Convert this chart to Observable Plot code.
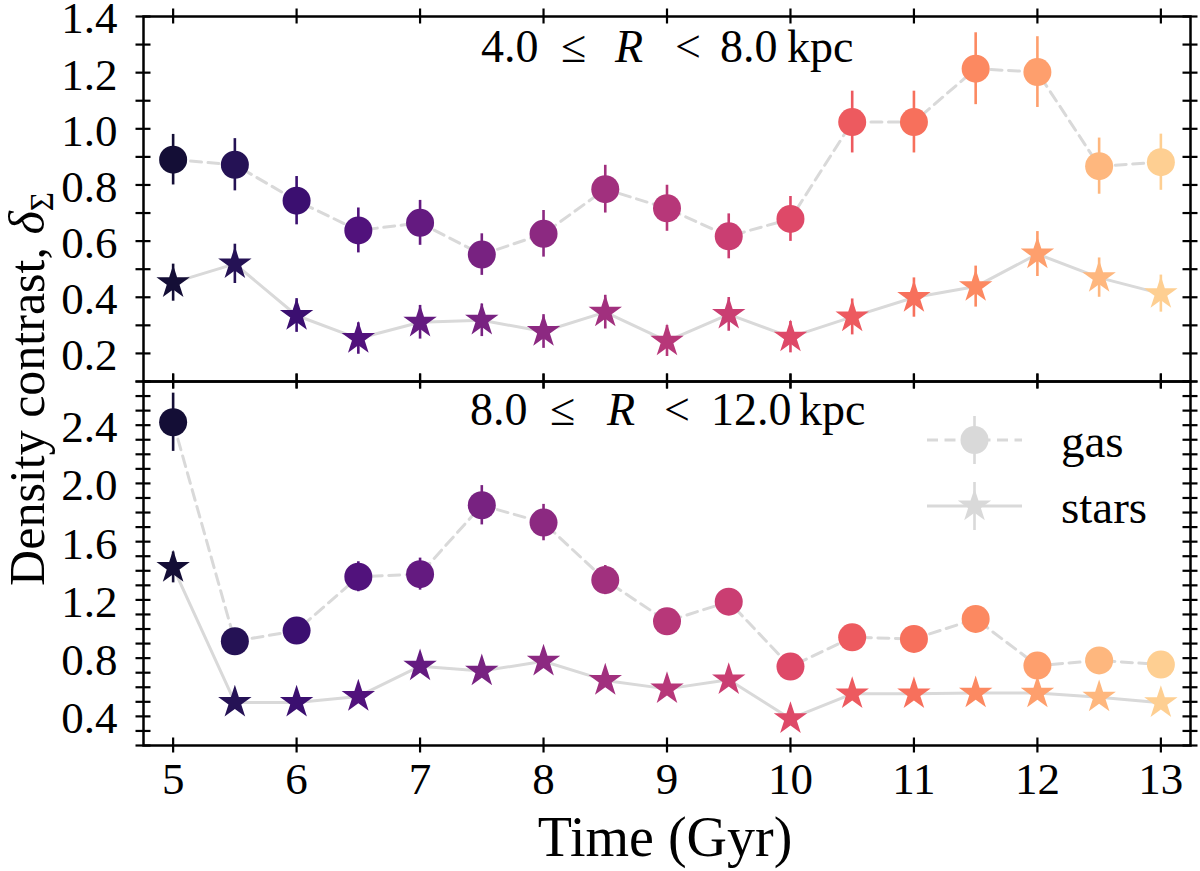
<!DOCTYPE html>
<html><head><meta charset="utf-8">
<script src="https://cdn.jsdelivr.net/npm/d3@7"></script>
<script src="https://cdn.jsdelivr.net/npm/@observablehq/plot@0.6"></script>
<style>
body{margin:0;background:#fff;}
#fig{position:relative;width:1200px;height:871px;font-family:"Liberation Serif",serif;}
#fig svg{position:absolute;left:0;overflow:visible;}
</style></head><body><div id="fig"></div>
<script>
// ---- data ----
const times = [5, 5.5, 6, 6.5, 7, 7.5, 8, 8.5, 9, 9.5, 10, 10.5, 11, 11.5, 12, 12.5, 13];

// 4.0 <= R < 8.0 kpc
const gasInner     = [0.890, 0.872, 0.744, 0.638, 0.665, 0.552, 0.626, 0.785, 0.717, 0.617, 0.679, 1.024, 1.024, 1.214, 1.202, 0.867, 0.881];
const gasInnerErr  = [0.090, 0.093, 0.086, 0.080, 0.080, 0.074, 0.083, 0.085, 0.082, 0.080, 0.080, 0.110, 0.110, 0.128, 0.126, 0.100, 0.100];
const starsInner    = [0.452, 0.519, 0.335, 0.253, 0.311, 0.318, 0.278, 0.347, 0.244, 0.339, 0.258, 0.330, 0.399, 0.438, 0.554, 0.470, 0.413];
const starsInnerErr = [0.066, 0.070, 0.060, 0.056, 0.060, 0.058, 0.060, 0.060, 0.055, 0.060, 0.056, 0.064, 0.070, 0.073, 0.080, 0.070, 0.066];

// 8.0 <= R < 12.0 kpc
const gasOuter     = [2.420, 0.916, 0.989, 1.359, 1.377, 1.850, 1.731, 1.336, 1.053, 1.188, 0.742, 0.943, 0.932, 1.069, 0.749, 0.784, 0.756];
const gasOuterErr  = [0.200, 0.030, 0.030, 0.103, 0.110, 0.135, 0.125, 0.100, 0.050, 0.050, 0.030, 0.030, 0.030, 0.030, 0.030, 0.030, 0.030];
const starsOuter    = [1.423, 0.496, 0.496, 0.537, 0.745, 0.711, 0.779, 0.647, 0.589, 0.651, 0.384, 0.555, 0.555, 0.560, 0.560, 0.532, 0.494];
const starsOuterErr = [0.106, 0.040, 0.040, 0.040, 0.040, 0.040, 0.040, 0.040, 0.040, 0.040, 0.040, 0.040, 0.040, 0.040, 0.040, 0.040, 0.040];

// ---- axis ticks ----
const xTicks = [5, 6, 7, 8, 9, 10, 11, 12, 13];
const yTicksTop = [0.1, 0.2, 0.3, 0.4, 0.5, 0.6, 0.7, 0.8, 0.9, 1.0, 1.1, 1.2, 1.3, 1.4];
const yLabelsTop = [0.2, 0.4, 0.6, 0.8, 1.0, 1.2, 1.4];
const yTicksBot = [0.2, 0.3, 0.4, 0.5, 0.6, 0.7, 0.8, 0.9, 1.0, 1.1, 1.2, 1.3, 1.4, 1.5, 1.6, 1.7, 1.8, 1.9, 2.0, 2.1, 2.2, 2.3, 2.4, 2.5, 2.6, 2.7];
const yLabelsBot = [0.4, 0.8, 1.2, 1.6, 2.0, 2.4];

const panelTitles = [["4.0", "8.0"], ["8.0", "12.0"]];
const legendLabels = ["gas", "stars"];

// ---- tables ----
const inner = times.map((t, i) => ({t, gas: gasInner[i], gasErr: gasInnerErr[i], stars: starsInner[i], starsErr: starsInnerErr[i]}));
const outer = times.map((t, i) => ({t, gas: gasOuter[i], gasErr: gasOuterErr[i], stars: starsOuter[i], starsErr: starsOuterErr[i]}));

const GREY = "#d9d9d9";
const W = 1200, ML = 143, MR = 10;
const FW = W - ML - MR;
const TL = 7.5; // half tick length
const xDomain = [4.76, 13.24];
const colorScale = {scheme: "magma", domain: [4, 14]};
const FONT = "'Liberation Serif', serif";
const styleBase = {fontFamily: FONT, fontSize: "45px", background: "transparent", overflow: "visible", color: "black"};

function seriesMarks(data) {
  return [
    Plot.line(data, {x: "t", y: "gas", stroke: GREY, strokeWidth: 3, strokeDasharray: "11,6.5"}),
    Plot.line(data, {x: "t", y: "stars", stroke: GREY, strokeWidth: 3}),
    Plot.ruleX(data, {x: "t", y1: d => d.gas - d.gasErr, y2: d => d.gas + d.gasErr, stroke: "t", strokeWidth: 2.6}),
    Plot.ruleX(data, {x: "t", y1: d => d.stars - d.starsErr, y2: d => d.stars + d.starsErr, stroke: "t", strokeWidth: 2.6}),
    Plot.dot(data, {x: "t", y: "gas", r: 14, fill: "t", symbol: "circle"}),
    Plot.dot(data, {x: "t", y: "stars", r: 10.5, fill: "t", symbol: "star"})
  ];
}
function tickMarks(yTicks, FH) {
  return [
    Plot.ruleY(yTicks, {y: d => d, insetLeft: -TL, insetRight: FW - TL, stroke: "black", strokeWidth: 2.2}),
    Plot.ruleY(yTicks, {y: d => d, insetLeft: FW - TL, insetRight: -TL, stroke: "black", strokeWidth: 2.2}),
    Plot.ruleX(xTicks, {x: d => d, insetTop: -TL, insetBottom: FH - TL, stroke: "black", strokeWidth: 2.2}),
    Plot.ruleX(xTicks, {x: d => d, insetTop: FH - TL, insetBottom: -TL, stroke: "black", strokeWidth: 2.2}),
    Plot.frame({stroke: "black", strokeWidth: 2.5})
  ];
}

// top panel: frame 16..381
const topH = 400, topMT = 16, topMB = 19;
const topPlot = Plot.plot({
  width: W, height: topH, marginLeft: ML, marginRight: MR, marginTop: topMT, marginBottom: topMB,
  style: styleBase,
  x: {domain: xDomain, axis: null},
  y: {domain: [0.1, 1.4]},
  color: colorScale,
  marks: [
    ...seriesMarks(inner),
    ...tickMarks(yTicksTop, topH - topMT - topMB),
    Plot.axisY({ticks: yLabelsTop, tickSize: 0, tickPadding: 26, dy: 2.5, tickFormat: d3.format(".1f"), label: null, fontFamily: FONT})
  ]
});

// bottom panel: page y 361, frame 381..745
const botTop = 361, botH = 510, botMT = 20, botMB = 126;
const botPlot = Plot.plot({
  width: W, height: botH, marginLeft: ML, marginRight: MR, marginTop: botMT, marginBottom: botMB,
  style: styleBase,
  x: {domain: xDomain},
  y: {domain: [0.2, 2.7]},
  color: colorScale,
  marks: [
    ...seriesMarks(outer),
    ...tickMarks(yTicksBot, botH - botMT - botMB),
    Plot.axisY({ticks: yLabelsBot, tickSize: 0, tickPadding: 26, dy: 2.5, tickFormat: d3.format(".1f"), label: null, fontFamily: FONT}),
    Plot.axisX({ticks: xTicks, tickSize: 0, tickPadding: 17, tickFormat: d => String(d), label: null, fontFamily: FONT})
  ]
});

const fig = document.getElementById("fig");
topPlot.style.top = "0px";
botPlot.style.top = botTop + "px";
fig.appendChild(botPlot);
fig.appendChild(topPlot);

// ---- annotations: titles, axis labels, legend ----
const ov = d3.create("svg").attr("width", W).attr("height", 871).style("top", "0px")
  .attr("font-family", FONT);

function panelTitle(vals, xs, baseline) {
  const g = ov.append("g").attr("font-size", 46);
  const parts = [vals[0], "\u2264", "R", "<", vals[1], "kpc"];
  parts.forEach((p, i) => {
    const t = g.append("text").attr("x", xs[i]).attr("y", baseline).text(p);
    if (p === "R") t.attr("font-style", "italic");
  });
}
panelTitle(panelTitles[0], [481, 561, 615, 675, 720, 787], 62);
panelTitle(panelTitles[1], [470, 550, 607, 664, 711, 799], 425);

ov.append("text").attr("x", 665).attr("y", 856).attr("font-size", 56).attr("text-anchor", "middle").text("Time (Gyr)");

const yl = ov.append("text").attr("transform", "translate(44,389) rotate(-90)").attr("font-size", 50).attr("text-anchor", "middle");
yl.append("tspan").text("Density contrast, ");
yl.append("tspan").attr("font-style", "italic").text("\u03B4");
yl.append("tspan").attr("font-size", 33).attr("dy", 9).text("\u03A3");

// legend
const lg = ov.append("g");
const lx1 = 927, lx2 = 1022, lmx = 974.5;
[[440, "11,6.5", "circle"], [506, null, "star"]].forEach(([y, dash, sym], i) => {
  const ln = lg.append("line").attr("x1", lx1).attr("x2", lx2).attr("y1", y).attr("y2", y).attr("stroke", GREY).attr("stroke-width", 3);
  if (dash) ln.attr("stroke-dasharray", dash);
  lg.append("line").attr("x1", lmx).attr("x2", lmx).attr("y1", y - 24).attr("y2", y + 24).attr("stroke", GREY).attr("stroke-width", 2.6);
  const path = sym === "circle" ? d3.symbol(d3.symbolCircle, Math.PI * 196)() : d3.symbol(d3.symbolStar, Math.PI * 110)();
  lg.append("path").attr("d", path).attr("transform", `translate(${lmx},${y})`).attr("fill", GREY);
  lg.append("text").attr("x", 1061).attr("y", y + 17).attr("font-size", 47).text(legendLabels[i]);
});

fig.appendChild(ov.node());
</script></body></html>
